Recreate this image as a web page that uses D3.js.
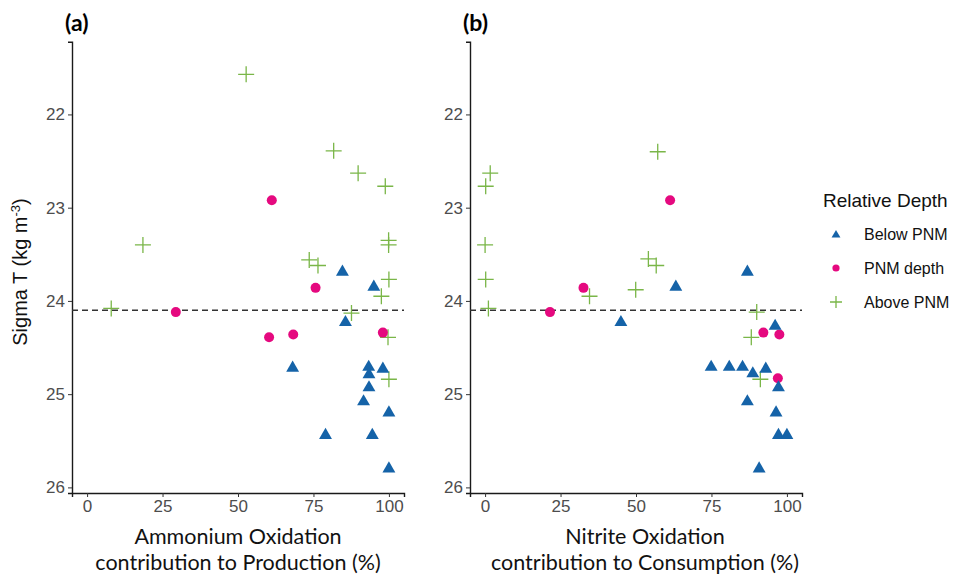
<!DOCTYPE html>
<html>
<head>
<meta charset="utf-8">
<script src="https://cdn.jsdelivr.net/npm/d3@7"></script>
<style>
  body { margin: 0; background: #fff; }
  .tick text { font-family: "Liberation Sans", Arial, sans-serif; font-size: 17px; fill: #4d4d4d; }
</style>
</head>
<body>
<div id="plot"></div>
<script>
// data: [x %, sigma T]
var aBelow = [[84.6,23.69],[95.0,23.85],[85.6,24.23],[68.1,24.72],[93.3,24.71],[98.0,24.73],[93.4,24.79],
              [93.4,24.93],[91.6,25.08],[100,25.20],[79.0,25.44],[94.5,25.44],[100,25.80]];
var aPNM = [[61.2,22.92],[75.7,23.86],[29.4,24.12],[60.3,24.39],[68.3,24.36],[98.0,24.34]];
var aAbove = [[52.7,21.57],[81.7,22.39],[89.8,22.63],[98.8,22.77],[18.5,23.40],[99.9,23.35],[99.9,23.40],
              [73.6,23.56],[76.5,23.62],[100,23.77],[97.5,23.95],[8.0,24.08],[87.6,24.13],[99.7,24.39],[100,24.84]];

var bBelow = [[63.2,23.85],[86.9,23.69],[45.0,24.23],[96.1,24.27],[74.9,24.71],[80.9,24.71],[85.3,24.71],
              [88.7,24.78],[93.0,24.73],[97.2,24.93],[86.9,25.08],[96.4,25.20],[97.2,25.44],[100,25.44],[90.8,25.80]];
var bPNM = [[61.3,22.92],[32.6,23.86],[21.5,24.12],[92.2,24.34],[97.5,24.36],[97.0,24.83]];
var bAbove = [[57.2,22.40],[1.7,22.63],[0.2,22.77],[0,23.40],[54.1,23.55],[56.7,23.62],[0.2,23.77],
              [49.9,23.88],[34.6,23.95],[1.1,24.08],[90.0,24.12],[88.2,24.39],[91.2,24.84]];

var xTicks = [0, 25, 50, 75, 100];
var yTicks = [22, 23, 24, 25, 26];
var pnmLine = 24.1;

var groups = ["Below PNM", "PNM depth", "Above PNM"];
var colors = {"Below PNM": "#1563a8", "PNM depth": "#e5097f", "Above PNM": "#7ab648"};

var W = 962, H = 575;
var svg = d3.select("#plot").append("svg").attr("width", W).attr("height", H);

var y = d3.scaleLinear().domain([21.22, 26.06]).range([41.7, 493]);

function panel(left, right, below, pnm, above, tag, title1, title2) {
  var x = d3.scaleLinear().domain([-5, 105]).range([left, right]);
  var g = svg.append("g");

  g.append("g").attr("transform", "translate(0,493)")
    .call(d3.axisBottom(x).tickValues(xTicks).tickFormat(d3.format("d")).tickSize(4).tickPadding(3))
    .call(a => a.select(".domain").attr("stroke", "#1a1a1a").attr("stroke-width", 1.4))
    .call(a => a.selectAll(".tick line").attr("stroke", "#333"));

  g.append("g").attr("transform", "translate(" + left + ",0)")
    .call(d3.axisLeft(y).tickValues(yTicks).tickFormat(d3.format("d")).tickSize(4).tickPadding(3))
    .call(a => a.select(".domain").attr("stroke", "#1a1a1a").attr("stroke-width", 1.4))
    .call(a => a.selectAll(".tick line").attr("stroke", "#333"));

  // dashed PNM line
  g.append("line")
    .attr("x1", left).attr("x2", right)
    .attr("y1", y(pnmLine)).attr("y2", y(pnmLine))
    .attr("stroke", "#333").attr("stroke-width", 1.4).attr("stroke-dasharray", "6,4");

  // crosses
  g.selectAll(".cross").data(above).enter().append("path")
    .attr("transform", d => "translate(" + x(d[0]) + "," + y(d[1]) + ")")
    .attr("d", "M-8,0H8M0,-8V8")
    .attr("stroke", colors["Above PNM"]).attr("stroke-width", 1.3).attr("fill", "none");

  g.selectAll(".dot").data(pnm).enter().append("circle")
    .attr("cx", d => x(d[0])).attr("cy", d => y(d[1])).attr("r", 5)
    .attr("fill", colors["PNM depth"]);

  g.selectAll(".tri").data(below).enter().append("path")
    .attr("transform", d => "translate(" + x(d[0]) + "," + y(d[1]) + ")")
    .attr("d", d3.symbol().type(d3.symbolTriangle).size(72))
    .attr("fill", colors["Below PNM"]);

  var mid = (left + right) / 2 + (tag == "(b)" ? 9 : 0);
  var tfont = "Lato, 'Open Sans', sans-serif";
  g.append("text").attr("x", left - 7).attr("y", 31)
    .attr("font-family", tfont).attr("font-weight", "bold").attr("font-size", 23)
    .text(tag);
  g.append("text").attr("x", mid).attr("y", 544).attr("text-anchor", "middle")
    .attr("font-family", tfont).attr("font-size", 21.5).attr("fill", "#111").text(title1);
  g.append("text").attr("x", mid).attr("y", 570).attr("text-anchor", "middle")
    .attr("font-family", tfont).attr("font-size", 21.5).attr("fill", "#111").text(title2);
}

panel(72, 404, aBelow, aPNM, aAbove, "(a)", "Ammonium Oxidation", "contribution to Production (%)");
panel(470, 802, bBelow, bPNM, bAbove, "(b)", "Nitrite Oxidation", "contribution to Consumption (%)");

// y axis label
var yl = svg.append("text")
  .attr("transform", "translate(27,272) rotate(-90)")
  .attr("text-anchor", "middle")
  .attr("font-family", "'Liberation Sans', Arial, sans-serif").attr("font-size", 20).attr("fill", "#111");
yl.append("tspan").text("Sigma T (kg m");
yl.append("tspan").attr("dy", -7).attr("font-size", 13).text("-3");
yl.append("tspan").attr("dy", 7).text(")");

// legend
var lg = svg.append("g").attr("font-family", "'Liberation Sans', Arial, sans-serif");
lg.append("text").attr("x", 823).attr("y", 207).attr("font-size", 19).attr("fill", "#111").text("Relative Depth");
var ly = d3.scalePoint().domain(groups).range([234, 302]);
groups.forEach(function (k) {
  var cy = ly(k);
  if (k == "Below PNM") {
    lg.append("path").attr("transform", "translate(836," + (cy + 1) + ")")
      .attr("d", d3.symbol().type(d3.symbolTriangle).size(34)).attr("fill", colors[k]);
  } else if (k == "PNM depth") {
    lg.append("circle").attr("cx", 836).attr("cy", cy).attr("r", 3.6).attr("fill", colors[k]);
  } else {
    lg.append("path").attr("transform", "translate(836," + cy + ")")
      .attr("d", "M-6,0H6M0,-6V6").attr("stroke", colors[k]).attr("stroke-width", 1.3);
  }
  lg.append("text").attr("x", 864).attr("y", cy + 6).attr("font-size", 16).attr("fill", "#111").text(k);
});
</script>
</body>
</html>
